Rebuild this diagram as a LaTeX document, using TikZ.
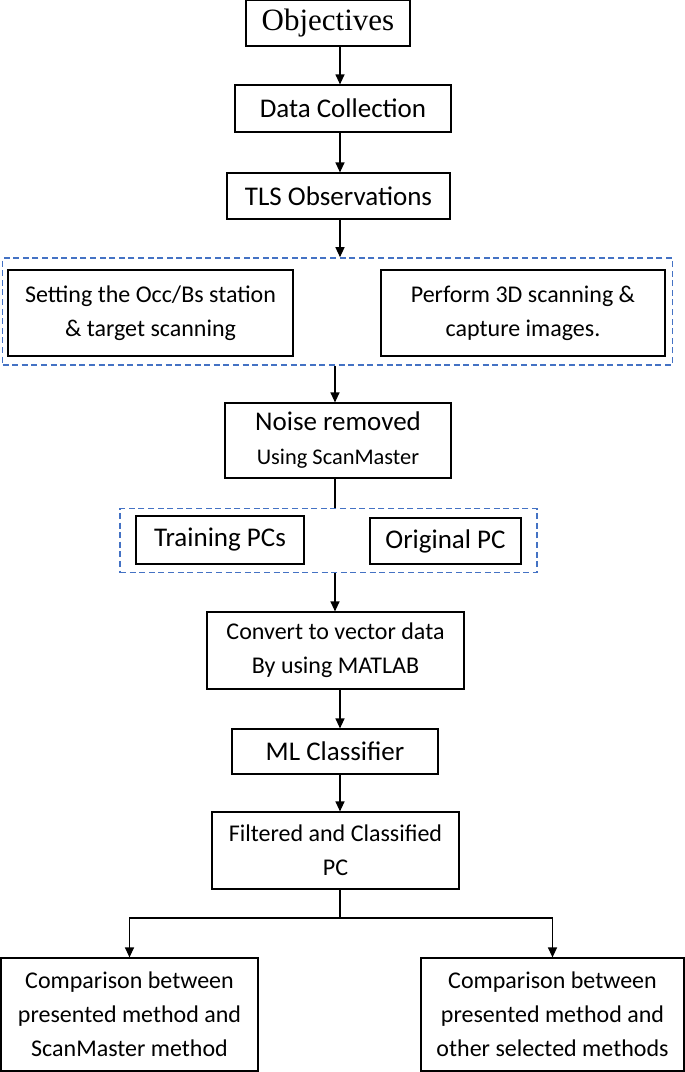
\documentclass[tikz,border=0pt]{standalone}
\usepackage{fontspec}
\setmainfont{Carlito}
\newfontfamily\timesfont{Liberation Serif}
\usetikzlibrary{arrows.meta}
\definecolor{grpblue}{RGB}{68,114,196}
\begin{document}
\begin{tikzpicture}[x=0.5pt,y=-0.5pt,
rect/.style={
draw,
line width=0.6pt,
inner sep=0pt,
align=center,
font=\fontsize{13.5}{17}\selectfont
},
small/.style={font=\fontsize{12}{17}\selectfont},
group/.style={draw=grpblue, line width=0.8pt, dash pattern=on 3pt off 1.8pt, inner sep=0pt},
arr/.style={-{Triangle[length=5pt,width=4.5pt]}, line width=0.6pt}
]
\useasboundingbox (0,0) rectangle (685,1072);
\coordinate (spine) at (340,0);
\coordinate (spine2) at (335,0);
\node[rect, minimum width=82pt, minimum height=23pt, font=\timesfont\fontsize{15.5}{18}\selectfont] (obj) at (328,23) {Objectives};
\node[rect, minimum width=108pt, minimum height=23.5pt] (coll) at (343,108.5) {Data Collection};
\node[rect, minimum width=111.5pt, minimum height=23pt] (tls) at (338.5,196) {TLS Observations};
\node[group, minimum width=335pt, minimum height=53.5pt] (grp1) at (337.5,311.5) {};
\node[rect, small, line width=1pt, minimum width=142.5pt, minimum height=43pt] (set) at (150.5,313) {Setting the Occ/Bs station\\\& target scanning};
\node[rect, small, line width=1pt, minimum width=142pt, minimum height=43pt] (scan) at (523,313) {Perform 3D scanning \&\\capture images.};
\node[rect, minimum width=113pt, minimum height=37.5pt] (noise) at (338,440.5) {Noise removed\\{\fontsize{11.2}{14}\selectfont Using ScanMaster}};
\node[group, minimum width=208.5pt, minimum height=32pt] (grp2) at (328.5,540.5) {};
\node[rect, minimum width=84pt, minimum height=24pt] (train) at (220,540) {Training PCs};
\node[rect, minimum width=75.5pt, minimum height=23pt] (orig) at (445.5,541) {Original PC};
\node[rect, small, minimum width=128.5pt, minimum height=38.5pt] (conv) at (335.5,650.5) {Convert to vector data\\By using MATLAB};
\node[rect, minimum width=103pt, minimum height=22.5pt] (ml) at (335,751.5) {ML Classifier};
\node[rect, small, minimum width=123.5pt, minimum height=38.5pt] (filt) at (335.5,850.5) {Filtered and Classified\\PC};
\node[rect, small, minimum width=128.5pt, minimum height=56.5pt] (cmpL) at (129.5,1014.5) {Comparison between\\presented method and\\ScanMaster method};
\node[rect, small, minimum width=131.5pt, minimum height=56.5pt] (cmpR) at (552.5,1014.5) {Comparison between\\presented method and\\other selected methods};
\coordinate (fork) at (340,918);

\draw[arr] (obj.south -| spine) -- (coll.north -| spine);
\draw[arr] (coll.south -| spine) -- (tls.north -| spine);
\draw[arr] (tls.south -| spine) -- (grp1.north -| spine);
\draw[arr] (grp1.south -| spine2) -- (noise.north -| spine2);
\draw[line width=0.6pt] (noise.south -| spine2) -- (grp2.north -| spine2);
\draw[arr] (grp2.south -| spine2) -- (conv.north -| spine2);
\draw[arr] (conv.south -| spine) -- (ml.north -| spine);
\draw[arr] (ml.south -| spine) -- (filt.north -| spine);
\draw[line width=0.6pt] (filt.south -| spine) -- (fork);
\draw[arr] (fork) -| (cmpL.north);
\draw[arr] (fork) -| (cmpR.north);
\end{tikzpicture}
\end{document}
